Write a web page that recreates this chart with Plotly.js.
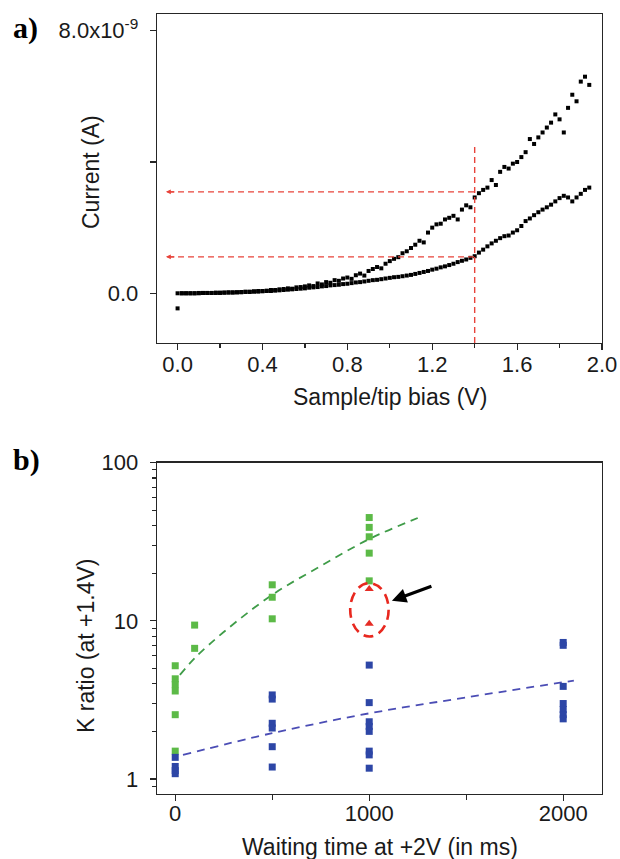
<!DOCTYPE html>
<html><head><meta charset="utf-8">
<script src="https://cdn.plot.ly/plotly-3.0.1.min.js"></script>
<style>html,body{margin:0;padding:0;background:#fff}#chart{width:620px;height:859px}</style>
</head><body><div id="chart"></div>
<script>
// ---------- Panel a: I(V) data ----------
const biasV = [0.00,0.02,0.04,0.06,0.08,0.10,0.12,0.14,0.16,0.18,
  0.20,0.22,0.24,0.26,0.28,0.30,0.32,0.34,0.36,0.38,
  0.40,0.42,0.44,0.46,0.48,0.50,0.52,0.54,0.56,0.58,
  0.60,0.62,0.64,0.66,0.68,0.70,0.72,0.74,0.76,0.78,
  0.80,0.82,0.84,0.86,0.88,0.90,0.92,0.94,0.96,0.98,
  1.00,1.02,1.04,1.06,1.08,1.10,1.12,1.14,1.16,1.18,
  1.20,1.22,1.24,1.26,1.28,1.30,1.32,1.34,1.36,1.38,
  1.40,1.42,1.44,1.46,1.48,1.50,1.52,1.54,1.56,1.58,
  1.60,1.62,1.64,1.66,1.68,1.70,1.72,1.74,1.76,1.78,
  1.80,1.82,1.84,1.86,1.88,1.90,1.92,1.94];
// lower curve (nA)
const currentLow_nA = [0.00,0.00,0.00,0.00,0.00,0.00,0.01,0.01,0.01,0.01,
  0.01,0.02,0.02,0.02,0.03,0.03,0.04,0.04,0.05,0.05,
  0.06,0.07,0.07,0.08,0.09,0.10,0.11,0.12,0.13,0.14,
  0.15,0.17,0.18,0.19,0.21,0.22,0.24,0.25,0.26,0.28,
  0.29,0.31,0.33,0.34,0.36,0.38,0.40,0.41,0.43,0.45,
  0.47,0.49,0.50,0.52,0.54,0.56,0.59,0.62,0.65,0.68,
  0.72,0.75,0.79,0.82,0.86,0.90,0.95,0.99,1.03,1.08,
  1.13,1.24,1.33,1.43,1.52,1.60,1.68,1.74,1.76,1.85,
  1.92,2.05,2.20,2.28,2.38,2.47,2.55,2.62,2.70,2.80,
  2.90,2.97,2.92,2.80,2.92,3.03,3.15,3.22];
// upper curve (nA)
const currentHigh_nA = [-0.46,0.00,0.00,0.00,0.00,0.01,0.01,0.01,0.01,0.02,
  0.02,0.02,0.03,0.03,0.03,0.04,0.05,0.05,0.06,0.07,
  0.07,0.08,0.10,0.10,0.12,0.13,0.15,0.14,0.18,0.19,
  0.21,0.24,0.22,0.30,0.27,0.34,0.32,0.40,0.38,0.45,
  0.48,0.44,0.55,0.60,0.54,0.68,0.74,0.80,0.76,0.90,
  0.98,1.05,1.10,1.22,1.28,1.38,1.48,1.60,1.55,1.85,
  2.00,2.10,2.12,2.25,2.30,2.36,2.25,2.55,2.68,2.62,
  2.92,3.05,3.15,3.22,3.45,3.30,3.70,3.85,3.80,3.95,
  4.00,4.15,4.30,4.70,4.55,4.75,4.90,5.05,5.20,5.45,
  5.30,4.90,5.65,6.05,5.85,6.45,6.60,6.35];
const guideBias = 1.4;
const guideLevels_nA = [3.09, 1.11];
const guideTop_nA = 4.56;

// ---------- Panel b: K ratio data ----------
const greenTime = [0,0,0,0,0,0, 100,100, 500,500,500, 1000,1000,1000,1000,1000];
const greenK    = [5.2,4.3,3.95,3.6,2.55,1.5, 9.4,6.7, 16.9,14.1,10.3, 45,39,34,26.8,17.9];
const blueTime  = [0,0,0,0, 500,500,500,500,500,500, 1000,1000,1000,1000,1000,1000,1000,1000, 2000,2000,2000,2000,2000,2000,2000];
const blueK     = [1.37,1.2,1.13,1.08, 3.4,3.2,2.25,2.1,1.6,1.19, 5.25,3.04,2.3,2.15,2.0,1.5,1.42,1.17, 7.3,7.0,3.85,3.0,2.75,2.55,2.4];
const redTime   = [1000,1000];
const redK      = [15.9,9.6];
const greenFitTime = [24,100,250,500,750,1000,1250];
const greenFitK    = [4.55,5.8,8.5,14.6,22.2,32.9,44.7];
const blueFitTime  = [40,500,1000,1500,2055];
const blueFitK     = [1.42,1.95,2.6,3.28,4.19];

// ---------- styling ----------
const FONT = 'Liberation Sans, Arial, sans-serif';
const AX = '#262626';
const RED = '#e8433a';
const toA = v => v * 1e-9;

const traces = [
  {x: biasV, y: currentLow_nA.map(toA), mode:'markers', type:'scatter', xaxis:'x', yaxis:'y',
   marker:{symbol:'square', size:4, color:'#000', line:{width:0}}},
  {x: biasV, y: currentHigh_nA.map(toA), mode:'markers', type:'scatter', xaxis:'x', yaxis:'y',
   marker:{symbol:'square', size:4, color:'#000', line:{width:0}}},
  {x: greenFitTime, y: greenFitK, mode:'lines', type:'scatter', xaxis:'x2', yaxis:'y2',
   line:{color:'#3f9c48', width:1.8, dash:'8px,6px', shape:'spline'}},
  {x: blueFitTime, y: blueFitK, mode:'lines', type:'scatter', xaxis:'x2', yaxis:'y2',
   line:{color:'#4b4db5', width:1.8, dash:'8px,6px', shape:'spline'}},
  {x: greenTime, y: greenK, mode:'markers', type:'scatter', xaxis:'x2', yaxis:'y2',
   marker:{symbol:'square', size:7, color:'#5cba47', line:{width:0}}},
  {x: blueTime, y: blueK, mode:'markers', type:'scatter', xaxis:'x2', yaxis:'y2',
   marker:{symbol:'square', size:7, color:'#2d46a6', line:{width:0}}},
  {x: redTime, y: redK, mode:'markers', type:'scatter', xaxis:'x2', yaxis:'y2',
   marker:{symbol:'triangle-up', size:8, color:'#e52c25', line:{width:0}}}
];

const axisBase = {
  showline:true, mirror:true, linecolor:AX, linewidth:1.3,
  ticks:'outside', ticklen:6, tickwidth:1.2, tickcolor:AX,
  showgrid:false, zeroline:false,
  tickfont:{family:FONT, size:22, color:'#1a1a1a'}
};

// pixel -> paper helpers for free text placement
const L = 157, R = 18, T = 14, B = 65, W = 620, H = 859;
const px = p => (p - L) / (W - L - R);
const py = p => (H - B - p) / (H - T - B);

const txt = (x, y, text, size, extra) => Object.assign({
  xref:'paper', yref:'paper', x:px(x), y:py(y), text:text, showarrow:false,
  xanchor:'center', yanchor:'middle',
  font:{family:FONT, size:size, color:'#1a1a1a'}
}, extra || {});

const layout = {
  width: W, height: H,
  margin:{l:L, r:R, t:T, b:B, pad:0},
  paper_bgcolor:'#ffffff', plot_bgcolor:'#ffffff',
  showlegend:false,
  xaxis: Object.assign({}, axisBase, {
    domain:[0,1], anchor:'y', range:[-0.097, 2.0],
    tickvals:[0,0.4,0.8,1.2,1.6,2.0], ticktext:['0.0','0.4','0.8','1.2','1.6','2.0'],
    ticklabelstandoff:-5,
    minor:{tickvals:[0.2,0.6,1.0,1.4,1.8], ticks:'outside', ticklen:4, tickwidth:1.2, tickcolor:AX}
  }),
  yaxis: Object.assign({}, axisBase, {
    domain:[py(343), 1], anchor:'x', range:[-1.515e-9, 8.51e-9],
    tickvals:[0, 4e-9, 8e-9], ticktext:['0.0','','8.0x10<sup>-9</sup>'],
    ticklabelstandoff:7
  }),
  xaxis2: Object.assign({}, axisBase, {
    domain:[0,1], anchor:'y2', range:[-94, 2200],
    tickvals:[0,1000,2000], ticktext:['0','1000','2000'],
    ticklabelstandoff:-7,
    minor:{tickvals:[500,1500], ticks:'outside', ticklen:5, tickwidth:1.2, tickcolor:AX}
  }),
  yaxis2: Object.assign({}, axisBase, {
    type:'log', domain:[0, py(462.7)], anchor:'x2', range:[-0.095, 2],
    tickvals:[1,10,100], ticktext:['1','10','100'],
    ticklabelstandoff:7,
    minor:{tickvals:[0.9,2,3,4,5,6,7,8,9,20,30,40,50,60,70,80,90], ticks:'outside', ticklen:3.5, tickwidth:1.1, tickcolor:AX}
  }),
  shapes: [
    {type:'line', xref:'x', yref:'y', x0:guideBias, x1:guideBias, y0:-1.515e-9, y1:toA(guideTop_nA),
     line:{color:RED, width:1.4, dash:'6px,4px'}},
    ...guideLevels_nA.map(v => ({type:'line', xref:'x', yref:'y', x0:-0.045, x1:guideBias, y0:toA(v), y1:toA(v),
     line:{color:RED, width:1.4, dash:'6px,4px'}})),
    {type:'circle', xref:'x2', yref:'y2', x0:902, x1:1100, y0:7.96, y1:17.3,
     line:{color:'#e8281f', width:2.6, dash:'10px,6px'}}
  ],
  annotations: [
    ...guideLevels_nA.map(v => ({xref:'x', yref:'y', x:-0.055, y:toA(v), ax:10, ay:0, text:'',
      showarrow:true, arrowhead:2, arrowsize:0.7, arrowwidth:1.4, arrowcolor:RED})),
    {xref:'x2', yref:'y2', x:1117, y:Math.log10(13.4), ax:41, ay:-15, text:'',
     showarrow:true, arrowhead:2, arrowsize:0.9, arrowwidth:3.2, arrowcolor:'#000'},
    txt(25, 28, '<b>a)</b>', 30, {font:{family:'Liberation Serif, Times New Roman, serif', size:30, color:'#000'}}),
    txt(26, 460, '<b>b)</b>', 30, {font:{family:'Liberation Serif, Times New Roman, serif', size:30, color:'#000'}}),
    txt(91, 172, 'Current (A)', 23, {textangle:-90}),
    txt(390, 397, 'Sample/tip bias (V)', 23),
    txt(86, 646, 'K ratio (at +1.4V)', 23, {textangle:-90}),
    txt(380, 847, 'Waiting time at +2V (in ms)', 23)
  ]
};

Plotly.newPlot('chart', traces, layout, {displayModeBar:false, staticPlot:true});
</script>
</body></html>
